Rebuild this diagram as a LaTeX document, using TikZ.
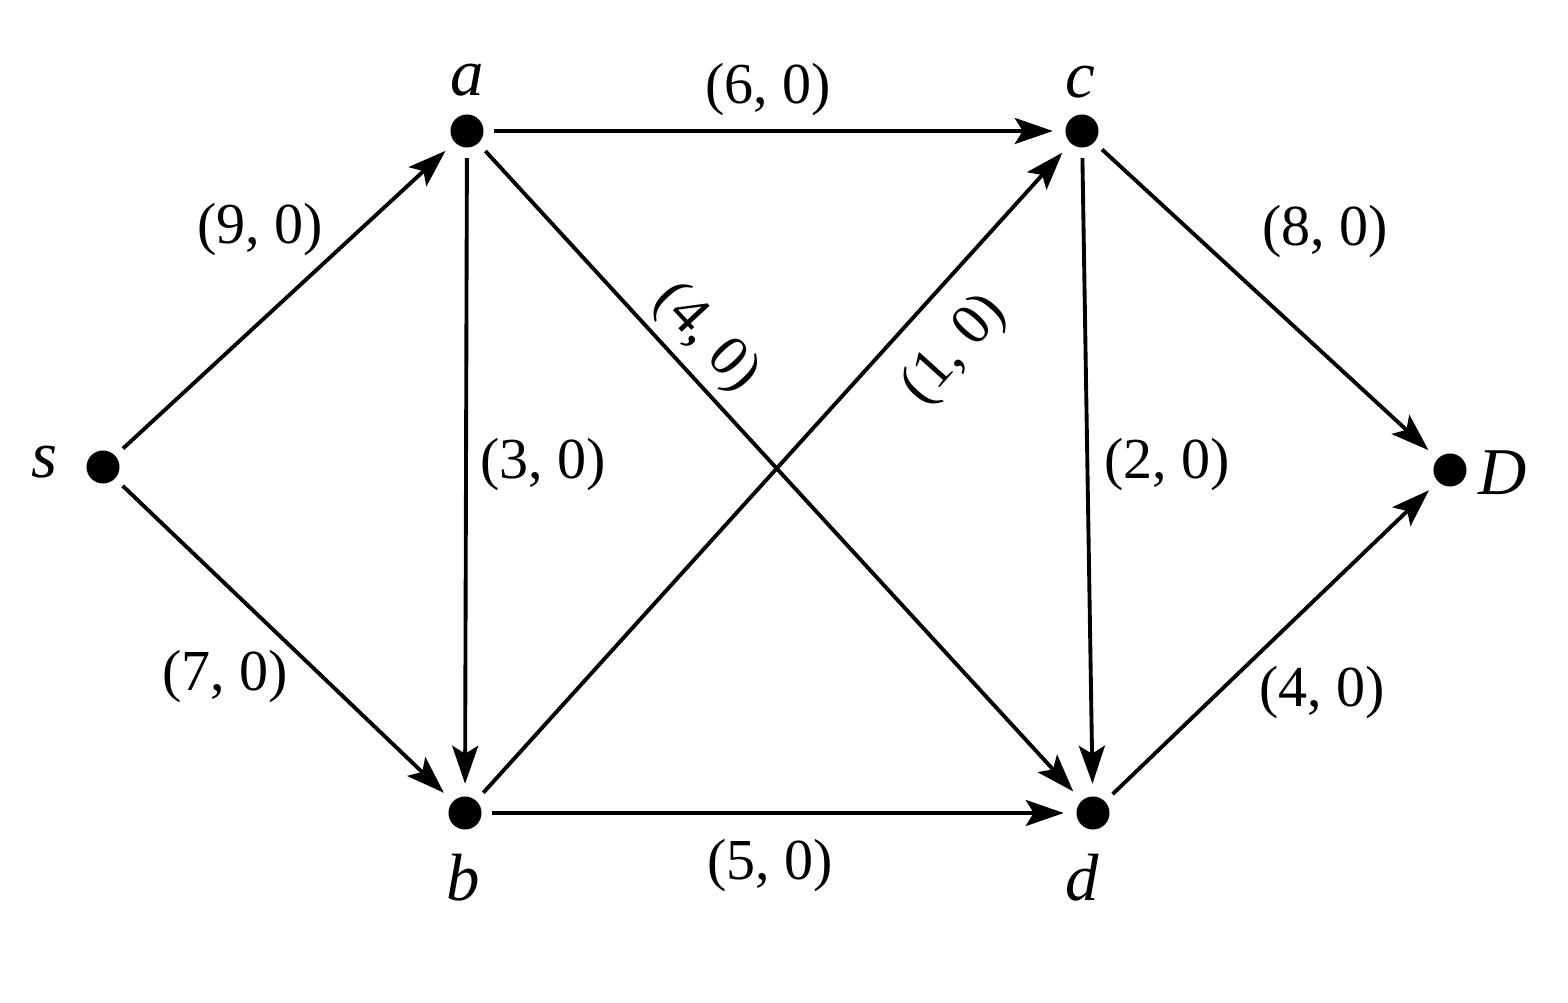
\documentclass[tikz,border=0pt]{standalone}
\usepackage{fontspec}
\setmainfont{Liberation Serif}
\usetikzlibrary{arrows.meta}
\begin{document}
\begin{tikzpicture}[x=0.01cm,y=-0.01cm,
  vtx/.style={circle,fill=black,inner sep=0pt,minimum size=0.33cm},
  edge/.style={line width=1.1pt,-{Stealth[length=0.38cm,width=0.26cm,inset=0.08cm]},shorten >=0.12cm,shorten <=0.1cm},
  lbl/.style={font=\fontsize{16.5}{19}\selectfont,inner sep=0pt},
  vlbl/.style={font=\fontsize{19}{22}\selectfont\itshape,inner sep=0pt}]
\useasboundingbox (0,0) rectangle (1568,1003);
\node[vtx] (s) at (103,467) {};
\node[vtx] (a) at (467,131) {};
\node[vtx] (c) at (1082,131) {};
\node[vtx] (b) at (465,813) {};
\node[vtx] (d) at (1093,813) {};
\node[vtx] (D) at (1450,470) {};
\node[vlbl] (ls) at (45,462) {s};
\node[vlbl] (la) at (467,80) {a};
\node[vlbl] (lc) at (1080,82) {c};
\node[vlbl] (lb) at (463,878) {b};
\node[vlbl] (ld) at (1082,878) {d};
\node[vlbl] (lD) at (1503,473) {D};
\draw[edge] (s) -- (a);
\draw[edge] (s) -- (b);
\draw[edge] (a) -- (c);
\draw[edge] (a) -- (b);
\draw[edge] (a) -- (d);
\draw[edge] (b) -- (c);
\draw[edge] (b) -- (d);
\draw[edge] (c) -- (d);
\draw[edge] (c) -- (D);
\draw[edge] (d) -- (D);
\node[lbl] (e1) at (768,90) {(6, 0)};
\node[lbl] (e2) at (260,230) {(9, 0)};
\node[lbl] (e3) at (225,677) {(7, 0)};
\node[lbl] (e4) at (543,465) {(3, 0)};
\node[lbl,rotate=-47] (e5) at (706,338) {(4, 0)};
\node[lbl,rotate=48] (e6) at (955,350) {(1, 0)};
\node[lbl] (e7) at (1167,465) {(2, 0)};
\node[lbl] (e8) at (1325,232) {(8, 0)};
\node[lbl] (e9) at (1322,693) {(4, 0)};
\node[lbl] (e10) at (770,866) {(5, 0)};
\end{tikzpicture}
\end{document}
